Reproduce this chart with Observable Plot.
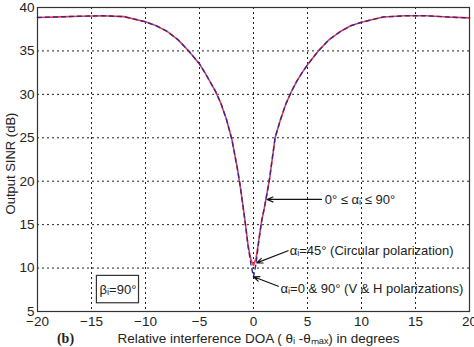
<!DOCTYPE html>
<html><head><meta charset="utf-8">
<script src="https://cdn.jsdelivr.net/npm/d3@7"></script>
<script src="https://cdn.jsdelivr.net/npm/@observablehq/plot@0.6"></script>
<style>
body{margin:0;background:#fff;}
#chart svg{font-family:Arial,"Liberation Sans",sans-serif;}
</style>
</head><body><div id="chart"></div>
<script>
// Relative interference DOA (degrees)
const doa = [-20,-18,-16,-14,-12,-10,-9,-8,-7,-6,-5,-4.5,-4,-3.5,-3,-2.5,-2,-1.5,-1.25,-1,-0.75,-0.5,-0.25,0,0.25,0.5,0.75,1,1.25,1.5,2,2.5,3,3.5,4,4.5,5,6,7,8,9,10,12,14,16,18,20];
// 0° <= alpha <= 90° family (red solid)
const sinrAll = [38.85,38.92,39.0,39.05,38.95,38.35,37.9,37.25,36.3,35.0,33.5,32.5,31.4,30.3,28.9,27.1,24.8,21.5,19.6,17.4,15.1,12.6,11.0,10.3,11.2,13.3,15.4,16.9,18.6,20.4,25.0,27.1,28.9,30.3,31.5,32.5,33.4,35.0,36.3,37.2,37.9,38.3,38.9,39.05,39.05,38.9,38.8];
// alpha = 0 & 90° (dashed)
const sinrVH = [38.85,38.92,39.0,39.05,38.95,38.35,37.9,37.25,36.3,35.0,33.5,32.5,31.4,30.3,28.9,27.1,24.8,21.5,19.6,17.4,15.1,12.5,10.5,9.0,10.6,13.2,15.4,16.9,18.6,20.4,25.0,27.1,28.9,30.3,31.5,32.5,33.4,35.0,36.3,37.2,37.9,38.3,38.9,39.05,39.05,38.9,38.8];
const xTicks = [-20,-15,-10,-5,0,5,10,15,20];
const yTicks = [5,10,15,20,25,30,35,40];

// annotations: text and arrow (data coords)
const annText = ["0° ≤ αᵢ ≤ 90°", "αᵢ=45° (Circular polarization)", "αᵢ=0 & 90° (V & H polarizations)"];
const annTextX = [6.6, 3.35, 2.5];
const annTextY = [17.9, 12.0, 7.6];
const arrX1 = [6.3, 3.2, 2.3];
const arrY1 = [17.9, 12.0, 7.9];
const arrX2 = [1.25, 0.3, 0.0];
const arrY2 = [17.9, 10.6, 9.0];
const boxLabel = "βᵢ=90°";
const boxX = [-14.5, -10.6];
const boxY = [5.95, 9.1];

const curves = doa.map((x,i)=>({x, a: sinrAll[i], v: sinrVH[i]}));
const ann = annText.map((t,i)=>({t, tx: annTextX[i], ty: annTextY[i], x1: arrX1[i], y1: arrY1[i], x2: arrX2[i], y2: arrY2[i]}));

const chart = Plot.plot({
  width: 474, height: 347,
  marginLeft: 37, marginRight: 5, marginTop: 7, marginBottom: 36,
  style: {background: "#fff", fontSize: "12px", fontFamily: "Arial, 'Liberation Sans', sans-serif", color: "#222"},
  x: {domain: [-20, 20], ticks: xTicks, label: null},
  y: {domain: [5, 40], ticks: yTicks, label: null},
  marks: [
    Plot.gridX(xTicks, {stroke: "#222", strokeOpacity: 1, strokeDasharray: "2,3", strokeWidth: 1}),
    Plot.gridY(yTicks, {stroke: "#222", strokeOpacity: 1, strokeDasharray: "2,3", strokeWidth: 1}),
    Plot.axisX(xTicks, {tickSize: 0, tickPadding: 5, fontSize: 13.5, label: null}),
    Plot.axisY(yTicks, {tickSize: 0, tickPadding: 3, fontSize: 13.5, label: null}),
    Plot.line(curves, {x: "x", y: "a", stroke: "#ec3a4c", strokeWidth: 1.6}),
    Plot.line(curves, {x: "x", y: "v", stroke: "#2c2c96", strokeWidth: 1.4, strokeDasharray: "4,4"}),
    Plot.arrow(ann, {x1: "x1", y1: "y1", x2: "x2", y2: "y2", stroke: "#111", strokeWidth: 1.2, headLength: 8, headAngle: 45}),
    Plot.text(ann, {x: "tx", y: "ty", text: "t", textAnchor: "start", fontSize: 13, fill: "#222"}),
    Plot.rect([{x1: boxX[0], x2: boxX[1], y1: boxY[0], y2: boxY[1]}], {x1: "x1", x2: "x2", y1: "y1", y2: "y2", fill: "#fff", stroke: "#333", strokeWidth: 1.2}),
    Plot.text([boxLabel], {x: (boxX[0]+boxX[1])/2, y: (boxY[0]+boxY[1])/2, text: d=>d, fontSize: 13, fill: "#222"}),
    Plot.text(["Relative interference DOA ( θᵢ -θₘₐₓ) in degrees"], {frameAnchor: "bottom", lineAnchor: "middle", textAnchor: "middle", dy: 27, dx: 5, fontSize: 13.5, fill: "#222"}),
    Plot.text(["(b)"], {frameAnchor: "bottom-left", lineAnchor: "middle", textAnchor: "middle", dx: 28, dy: 27, fontSize: 14, fontWeight: "bold", fontFamily: "'Liberation Serif', 'DejaVu Serif', serif", fill: "#222"}),
    Plot.text(["Output SINR (dB)"], {frameAnchor: "left", lineAnchor: "middle", textAnchor: "middle", dx: -27, dy: 4, rotate: -90, fontSize: 13, fill: "#222"}),
    Plot.frame({stroke: "#333", strokeWidth: 1.2})
  ]
});
document.getElementById("chart").appendChild(chart);
</script></body></html>
